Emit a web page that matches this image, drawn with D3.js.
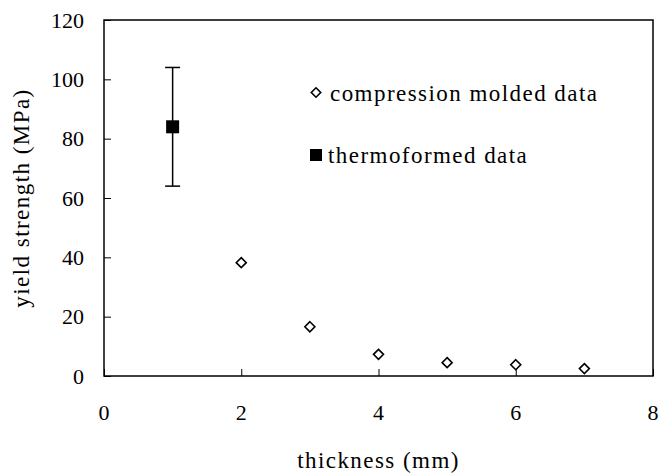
<!DOCTYPE html>
<html><head><meta charset="utf-8">
<script src="https://cdn.jsdelivr.net/npm/d3@7"></script>
<style>body{margin:0;background:#fff}svg{display:block}</style>
</head><body><svg id="c" width="660" height="476"></svg>
<script>
const compThickness = [2, 3, 4, 5, 6, 7];
const compYield = [38.2, 16.6, 7.3, 4.5, 3.8, 2.5];
const thermoThickness = [1];
const thermoYield = [84];
const thermoErr = [20];
const xTicks = [0, 2, 4, 6, 8];
const yTicks = [0, 20, 40, 60, 80, 100, 120];
const legendLabels = ["compression molded data", "thermoformed data"];

const FONT = "'Times New Roman', 'Liberation Serif', 'DejaVu Serif', serif";
const svg = d3.select("#c");
const L = 104, R = 653, T = 20, B = 376;
const x = d3.scaleLinear().domain([0, 8]).range([L, R]);
const y = d3.scaleLinear().domain([0, 120]).range([B, T]);
const tick = (sel) => sel.attr("font-family", FONT).attr("font-size", "22px").attr("fill", "#000");
const txt = (sel) => sel.attr("font-family", FONT).attr("font-size", "23px").attr("letter-spacing", "1.45px").attr("fill", "#000");

// frame
svg.append("rect").attr("x", L).attr("y", T).attr("width", R - L).attr("height", B - T)
  .attr("fill", "none").attr("stroke", "#000").attr("stroke-width", 1.5);

// y axis ticks (inward)
const ya = d3.axisRight(y).tickValues(yTicks).tickSize(7).tickFormat("");
svg.append("g").attr("transform", `translate(${L},0)`).call(ya)
  .call(g => { g.select(".domain").remove(); g.selectAll("line").attr("stroke", "#000").attr("stroke-width", 1); });
svg.append("g").selectAll("text").data(yTicks).join("text")
  .attr("x", L - 20).attr("y", d => y(d)).attr("dy", "0.35em").attr("text-anchor", "end")
  .call(tick).text(d => d);

// x axis ticks (inward)
const xa = d3.axisTop(x).tickValues(xTicks).tickSize(7).tickFormat("");
svg.append("g").attr("transform", `translate(0,${B})`).call(xa)
  .call(g => { g.select(".domain").remove(); g.selectAll("line").attr("stroke", "#000").attr("stroke-width", 1); });
svg.append("g").selectAll("text").data(xTicks).join("text")
  .attr("x", d => x(d)).attr("y", B + 36).attr("dy", "0.35em").attr("text-anchor", "middle")
  .call(tick).text(d => d);

// axis titles
svg.append("text").attr("x", (L + R) / 2).attr("y", 460).attr("dy", "0.35em").attr("text-anchor", "middle")
  .call(txt).text("thickness (mm)");
svg.append("text").attr("transform", `translate(21,${(T + B) / 2}) rotate(-90)`).attr("dy", "0.35em")
  .attr("text-anchor", "middle").call(txt).text("yield strength (MPa)");

// error bars
const thermo = thermoThickness.map((t, i) => ({ t, v: thermoYield[i], e: thermoErr[i] }));
const eb = svg.append("g").attr("stroke", "#000").attr("stroke-width", 1.5);
thermo.forEach(d => {
  eb.append("line").attr("x1", x(d.t)).attr("x2", x(d.t)).attr("y1", y(d.v + d.e)).attr("y2", y(d.v - d.e));
  eb.append("line").attr("x1", x(d.t) - 7.5).attr("x2", x(d.t) + 7.5).attr("y1", y(d.v + d.e)).attr("y2", y(d.v + d.e));
  eb.append("line").attr("x1", x(d.t) - 7.5).attr("x2", x(d.t) + 7.5).attr("y1", y(d.v - d.e)).attr("y2", y(d.v - d.e));
});
svg.append("g").selectAll("rect").data(thermo).join("rect")
  .attr("x", d => x(d.t) - 6.5).attr("y", d => y(d.v) - 6.5).attr("width", 13).attr("height", 13).attr("fill", "#000");

// compression molded diamonds
const diamond = s => `M0,${-s}L${s},0L0,${s}L${-s},0Z`;
svg.append("g").selectAll("path").data(compThickness.map((t, i) => ({ t, v: compYield[i] }))).join("path")
  .attr("transform", d => `translate(${x(d.t)},${y(d.v)})`).attr("d", diamond(5))
  .attr("fill", "#fff").attr("stroke", "#000").attr("stroke-width", 1.6);

// legend
svg.append("path").attr("transform", "translate(316,92.5)").attr("d", diamond(4.7))
  .attr("fill", "#fff").attr("stroke", "#000").attr("stroke-width", 1.6);
svg.append("text").attr("x", 330).attr("y", 92.5).attr("dy", "0.35em").call(txt).text(legendLabels[0]);
svg.append("rect").attr("x", 310).attr("y", 149).attr("width", 12).attr("height", 12).attr("fill", "#000");
svg.append("text").attr("x", 328).attr("y", 155).attr("dy", "0.35em").call(txt).text(legendLabels[1]);
</script></body></html>
